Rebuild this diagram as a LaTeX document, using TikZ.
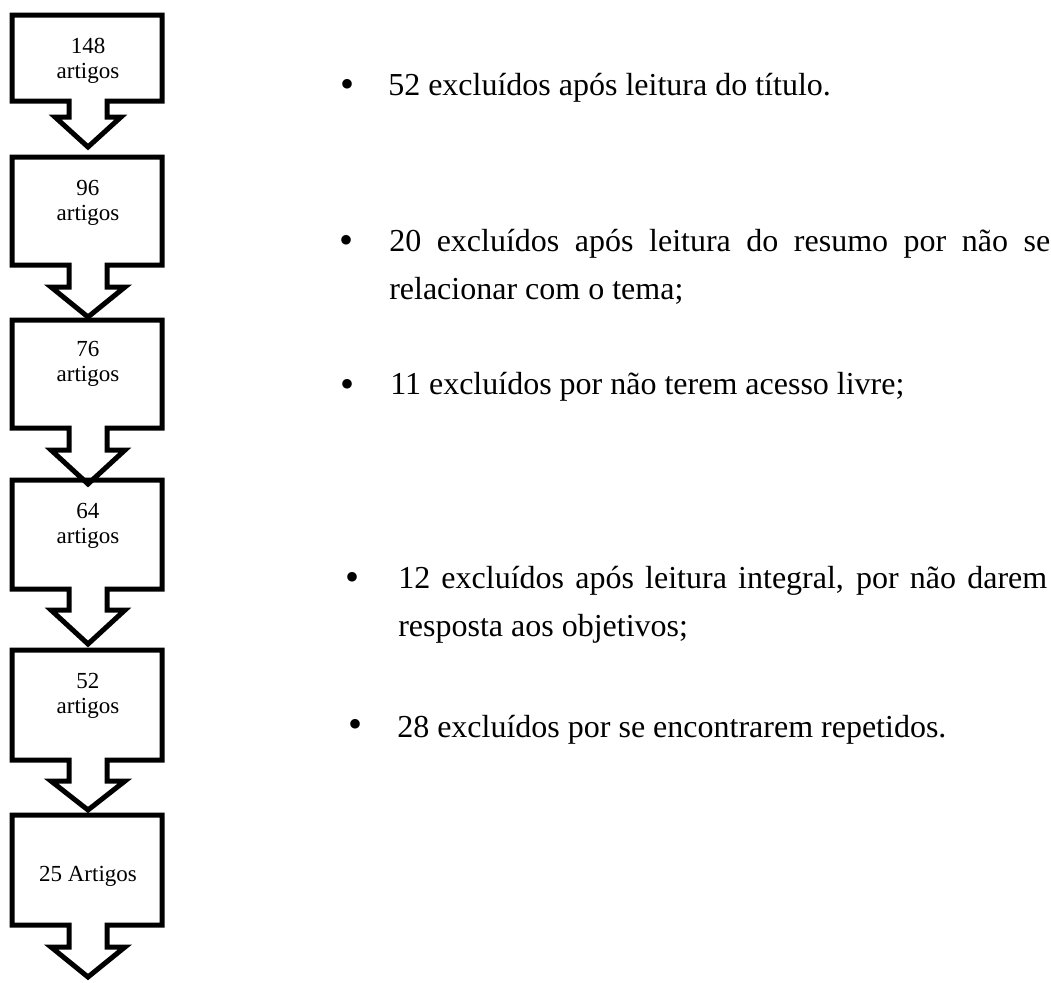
\documentclass[tikz,border=0pt]{standalone}
\usepackage{fontspec}
\setmainfont{Liberation Serif}
\newcommand\arrowboxpath[5]{%
  \draw[abox] (12,#1) -- (162,#1) -- (162,#2) -- (107,#2) -- (107,#3) -- ({88+#5},#3)
    -- (88,#4) -- ({88-#5},#3) -- (69,#3) -- (69,#2) -- (12,#2) -- cycle;}
\begin{document}
\begin{tikzpicture}[x=0.75pt,y=-0.75pt,
  abox/.style={line width=3.75pt,draw=black},
  boxtxt/.style={anchor=base,inner sep=0pt,font=\fontsize{17.25pt}{19pt}\selectfont},
  itemtxt/.style={anchor=base west,inner sep=0pt,font=\fontsize{24pt}{28pt}\selectfont},
  bul/.style={anchor=center,inner sep=0pt,font=\fontsize{30pt}{30pt}\selectfont}]
\useasboundingbox (0,0) rectangle (1051,983);
% arrow boxes
\arrowboxpath{15}{101}{117}{147}{33}
\arrowboxpath{157}{265}{287}{317}{37}
\arrowboxpath{320}{428}{450}{484}{37}
\arrowboxpath{480}{589}{610}{644}{37}
\arrowboxpath{650}{760}{781}{810}{37}
\arrowboxpath{815}{925}{947}{977}{37}
% box texts
\node[boxtxt] (a1) at (88,53) {148};
\node[boxtxt] (b1) at (88,78) {artigos};
\node[boxtxt] (a2) at (88,195) {96};
\node[boxtxt] (b2) at (88,220) {artigos};
\node[boxtxt] (a3) at (88,356) {76};
\node[boxtxt] (b3) at (88,381) {artigos};
\node[boxtxt] (a4) at (88,518) {64};
\node[boxtxt] (b4) at (88,543) {artigos};
\node[boxtxt] (a5) at (88,688) {52};
\node[boxtxt] (b5) at (88,713) {artigos};
\node[boxtxt] (a6) at (88,881) {25 Artigos};
% bullets
\node[bul] (u1) at (347,88) {•};
\node[bul] (u2) at (346,244) {•};
\node[bul] (u3) at (347,388) {•};
\node[bul] (u4) at (353,581) {•};
\node[bul] (u5) at (355,728) {•};
% item texts
\node[itemtxt] (l1) at (388,95) {52 excluídos após leitura do título.};
\node[itemtxt] (l2a) at (389,251) {\makebox[495.75pt][s]{20 excluídos após leitura do resumo por não se}};
\node[itemtxt] (l2b) at (389,299) {relacionar com o tema;};
\node[itemtxt] (l3) at (390,394) {11 excluídos por não terem acesso livre;};
\node[itemtxt] (l4a) at (398,588) {\makebox[486.75pt][s]{12 excluídos após leitura integral, por não darem}};
\node[itemtxt] (l4b) at (398,636) {resposta aos objetivos;};
\node[itemtxt] (l5) at (397,737) {28 excluídos por se encontrarem repetidos.};
\end{tikzpicture}
\end{document}
